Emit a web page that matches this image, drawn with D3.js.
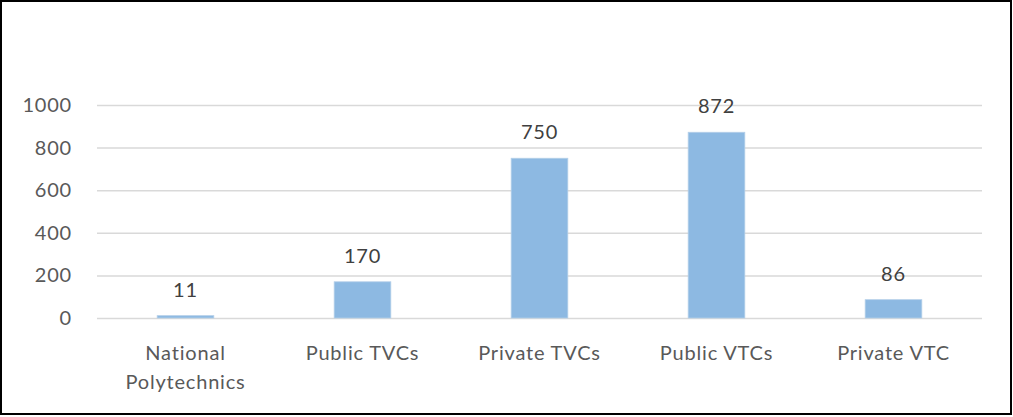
<!DOCTYPE html>
<html>
<head>
<meta charset="utf-8">
<script src="https://cdn.jsdelivr.net/npm/d3@7"></script>
<style>
  body { margin: 0; background: #fff; }
  svg { display: block; font-family: Lato, "Open Sans", sans-serif; }
  svg text { font-size: 20px; letter-spacing: 0.8px; }
</style>
</head>
<body>
<script>
// data
var categories = [["National", "Polytechnics"], ["Public TVCs"], ["Private TVCs"], ["Public VTCs"], ["Private VTC"]];
var values = [11, 170, 750, 872, 86];
var yTicks = [0, 200, 400, 600, 800, 1000];

var canvas = {w: 1013, h: 417},
    margin = {top: 105, right: 31, bottom: 99, left: 97},
    width = canvas.w - margin.left - margin.right,
    height = canvas.h - margin.top - margin.bottom;

var svg = d3.select("body").append("svg")
    .attr("width", canvas.w)
    .attr("height", canvas.h);

// outer frame
svg.append("rect")
    .attr("x", 1).attr("y", 1)
    .attr("width", canvas.w - 3).attr("height", canvas.h - 4)
    .attr("fill", "#fff")
    .attr("stroke", "#000")
    .attr("stroke-width", 2);

var g = svg.append("g")
    .attr("transform", "translate(" + margin.left + "," + margin.top + ")");

var x = d3.scaleBand()
    .domain(d3.range(values.length))
    .range([0, width])
    .paddingInner(0.68)
    .paddingOuter(0.34);

var y = d3.scaleLinear().domain([0, 1000]).range([height, 0]);

// gridlines
g.append("g")
    .call(d3.axisLeft(y).tickValues(yTicks).tickSize(-width).tickFormat(""))
    .call(function(a) { a.select(".domain").remove(); })
    .selectAll("line")
    .attr("stroke", "#d9d9d9")
    .attr("stroke-width", 1.5);

// y labels
g.append("g")
    .selectAll("text")
    .data(yTicks)
    .enter().append("text")
    .attr("x", -25)
    .attr("y", function(d) { return y(d); })
    .attr("dy", "0.35em")
    .attr("text-anchor", "end")
    .attr("fill", "#595959")
    .text(function(d) { return d; });

// bars
g.selectAll(".bar")
    .data(values)
    .enter().append("rect")
    .attr("class", "bar")
    .attr("x", function(d, i) { return x(i); })
    .attr("y", function(d) { return y(d); })
    .attr("width", x.bandwidth())
    .attr("height", function(d) { return height - y(d); })
    .attr("fill", "#8db9e2")
    .attr("stroke", "#b4cfe8")
    .attr("stroke-width", 0.8);

// value labels
g.selectAll(".val")
    .data(values)
    .enter().append("text")
    .attr("class", "val")
    .attr("x", function(d, i) { return x(i) + x.bandwidth() / 2; })
    .attr("y", function(d) { return y(d) - 19; })
    .attr("text-anchor", "middle")
    .attr("fill", "#404040")
    .text(function(d) { return d; });

// category labels
var cat = g.selectAll(".cat")
    .data(categories)
    .enter().append("text")
    .attr("class", "cat")
    .attr("text-anchor", "middle")
    .attr("fill", "#595959")
    .attr("transform", function(d, i) {
        return "translate(" + (x(i) + x.bandwidth() / 2) + "," + (height + 42) + ")";
    });

cat.selectAll("tspan")
    .data(function(d) { return d; })
    .enter().append("tspan")
    .attr("x", 0)
    .attr("y", function(d, i) { return i * 29; })
    .text(function(d) { return d; });
</script>
</body>
</html>
